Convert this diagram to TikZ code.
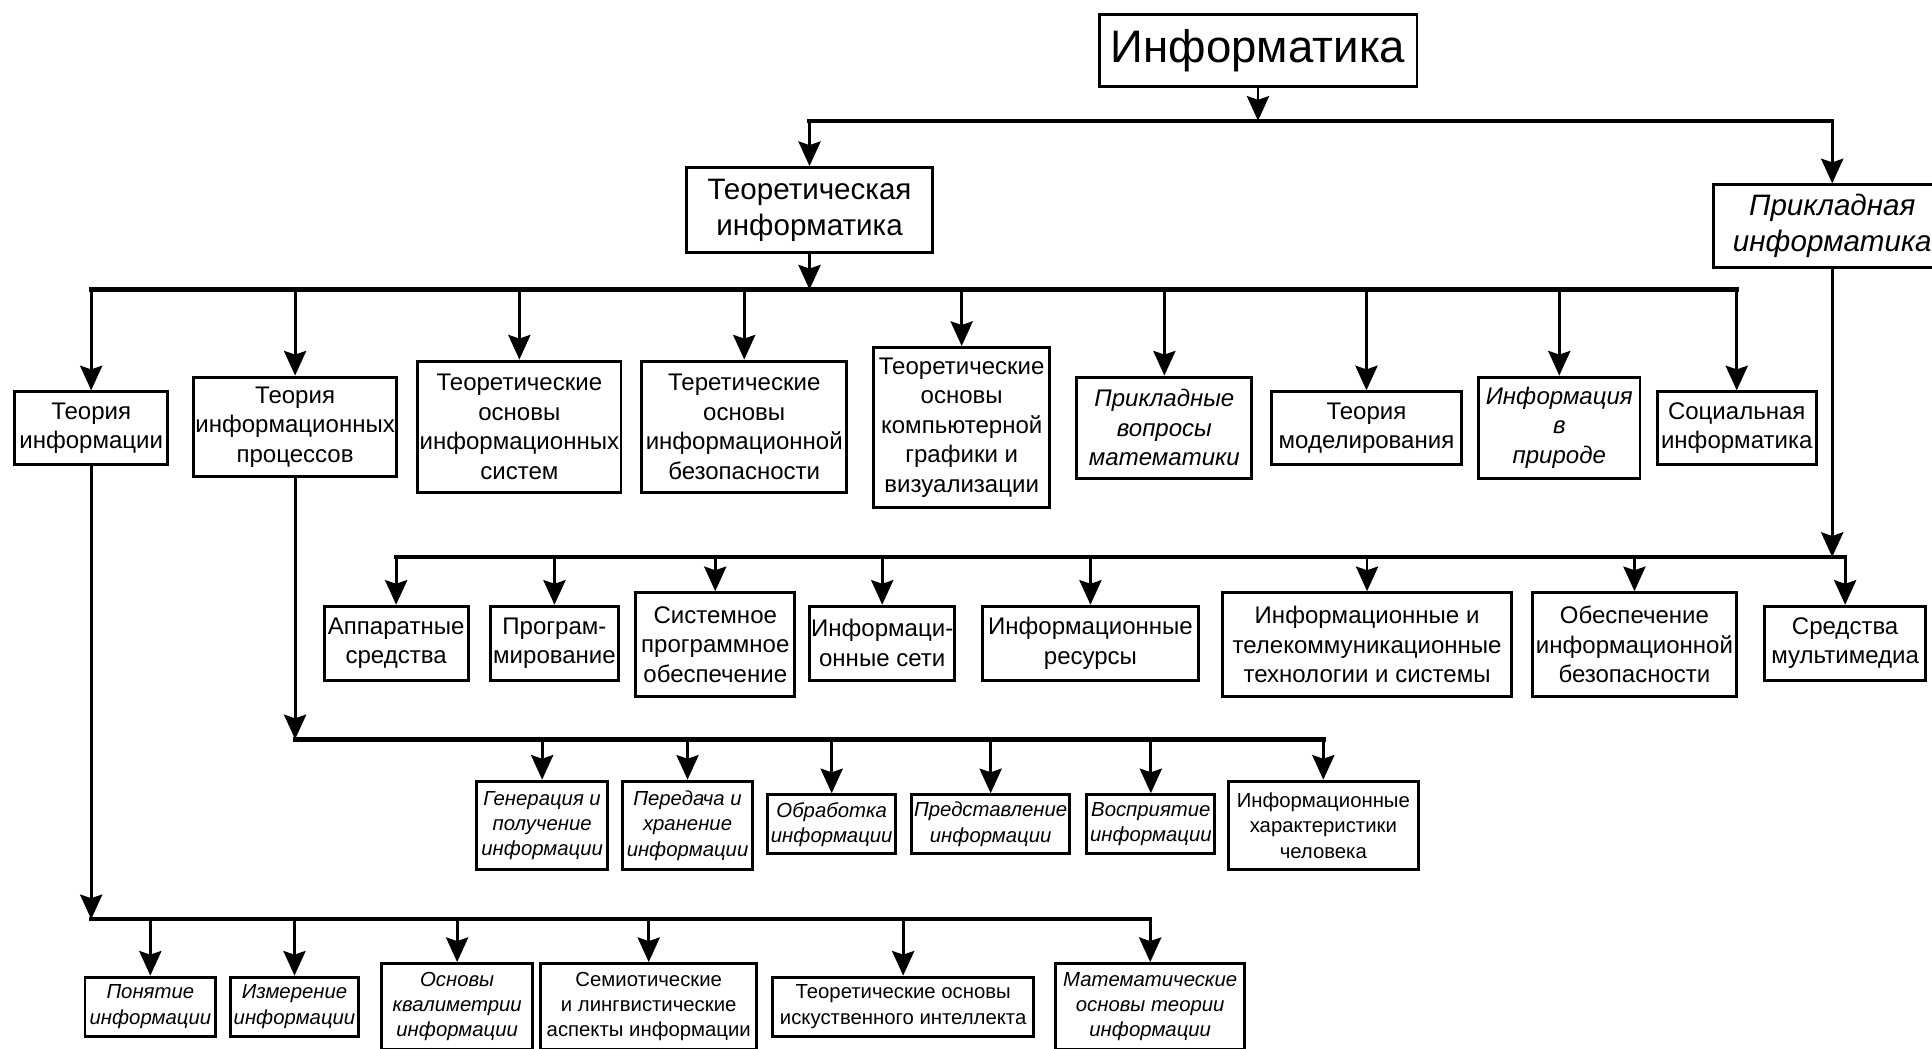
\documentclass[tikz,border=0pt]{standalone}
\usepackage{fontspec}
\setmainfont{Liberation Sans}
\usetikzlibrary{arrows.meta}
\tikzset{
  box/.style={draw, line width=2.4pt, fill=white, align=center, inner sep=0pt,
    font=\fontsize{19.5}{24}\selectfont},
  ibox/.style={box, font=\fontsize{19.5}{24}\selectfont\itshape},
  bigbox/.style={box, font=\fontsize{37}{42}\selectfont},
  midbox/.style={box, font=\fontsize{24}{29}\selectfont},
  imidbox/.style={box, font=\fontsize{24}{29}\selectfont\itshape},
  smallbox/.style={box, font=\fontsize{16.5}{20.5}\selectfont},
  ismallbox/.style={box, font=\fontsize{16.5}{20.5}\selectfont\itshape},
  sz/.style 2 args={minimum width=#1pt, minimum height=#2pt},
  conn/.style={line width=2.3pt, -{Stealth[length=20pt,width=18pt,inset=3pt]}},
  bus/.style={line width=3.6pt, line cap=rect},
}
\begin{document}
\begin{tikzpicture}[x=1pt,y=-1pt]
\useasboundingbox (0,0) rectangle (1568,851);
\fill[white] (0,0) rectangle (1568,851);
% bus levels
\coordinate (y1) at (0,98);
\coordinate (y2) at (0,235);
\coordinate (y3) at (0,452);
\coordinate (y4) at (0,600);
\coordinate (y5) at (0,746);
% level 1 and 2
\node[bigbox, sz={258}{58}] (root) at (1021,41) {Информатика};
\node[midbox, sz={200}{69}] (teor) at (657,170.5) {Теоретическая\\информатика};
\node[imidbox, sz={192}{67}] (prikl) at (1487,183.5) {Прикладная\\информатика};
% level 3
\node[box, sz={124}{59}] (T1) at (74,347.5) {Теория\\информации};
\node[box, sz={165}{81}] (T2) at (239.5,346.5) {Теория\\информационных\\процессов};
\node[box, sz={165}{107}] (T3) at (421.5,346.5) {Теоретические\\основы\\информационных\\систем};
\node[box, sz={166}{107}] (T4) at (604,346.5) {Теретические\\основы\\информационной\\безопасности};
\node[box, sz={143}{130}] (T5) at (780.5,347) {Теоретические\\основы\\компьютерной\\графики и\\визуализации};
\node[ibox, sz={142}{82}] (T6) at (945,347) {Прикладные\\вопросы\\математики};
\node[box, sz={154}{59}] (T7) at (1109,347.5) {Теория\\моделирования};
\node[ibox, sz={131}{82}] (T8) at (1265.5,347) {Информация\\в\\природе};
\node[box, sz={129}{59}] (T9) at (1409.5,347.5) {Социальная\\информатика};
% level 4 (applied)
\node[box, sz={117}{60}] (A1) at (321.5,522) {Аппаратные\\средства};
\node[box, sz={104}{60}] (A2) at (450,522) {Програм-\\мирование};
\node[box, sz={129}{84}] (A3) at (580.5,523) {Системное\\программное\\обеспечение};
\node[box, sz={118}{60}] (A4) at (716,522) {Информаци-\\онные сети};
\node[box, sz={176}{60}] (A5) at (885,522) {Информационные\\ресурсы};
\node[box, sz={235}{84}] (A6) at (1109.5,523) {Информационные и\\телекоммуникационные\\технологии и системы};
\node[box, sz={165}{84}] (A7) at (1326.5,523) {Обеспечение\\информационной\\безопасности};
\node[box, sz={131}{60}] (A8) at (1497.5,522) {Средства\\мультимедиа};
% level 5 (processes)
\node[ismallbox, sz={106}{72}] (P1) at (440,670) {Генерация и\\получение\\информации};
\node[ismallbox, sz={106}{72}] (P2) at (558,670) {Передача и\\хранение\\информации};
\node[ismallbox, sz={104}{48}] (P3) at (675,669) {Обработка\\информации};
\node[ismallbox, sz={128}{48}] (P4) at (804,669) {Представление\\информации};
\node[ismallbox, sz={104}{48}] (P5) at (934,669) {Восприятие\\информации};
\node[smallbox, sz={154}{72}] (P6) at (1074,670) {Информационные\\характеристики\\человека};
% level 6 (information theory)
\node[ismallbox, sz={106}{48}] (Q1) at (122,817) {Понятие\\информации};
\node[ismallbox, sz={104}{48}] (Q2) at (239,817) {Измерение\\информации};
\node[ismallbox, sz={122}{70}] (Q3) at (371,817) {Основы\\квалиметрии\\информации};
\node[smallbox, sz={175}{70}] (Q4) at (526.5,817) {Семиотические\\и лингвистические\\аспекты информации};
\node[smallbox, sz={212}{48}] (Q5) at (733,817) {Теоретические основы\\искуственного интеллекта};
\node[ismallbox, sz={153}{70}] (Q6) at (933.5,817) {Математические\\основы теории\\информации};
% connectors: level 1
\draw[conn] (root.south) -- (root.south |- y1);
\draw[bus] (teor.north |- y1) -- (prikl.north |- y1);
\foreach \n in {teor,prikl} \draw[conn] (\n.north |- y1) -- (\n.north);
% level 2 -> 3
\draw[conn] (teor.south) -- (teor.south |- y2);
\draw[bus] (T1.north |- y2) -- (T9.north |- y2);
\foreach \n in {T1,T2,T3,T4,T5,T6,T7,T8,T9} \draw[conn] (\n.north |- y2) -- (\n.north);
% applied
\draw[conn] (prikl.south) -- (prikl.south |- y3);
\draw[bus] (A1.north |- y3) -- (A8.north |- y3);
\foreach \n in {A1,A2,A3,A4,A5,A6,A7,A8} \draw[conn] (\n.north |- y3) -- (\n.north);
% processes
\draw[conn] (T2.south) -- (T2.south |- y4);
\draw[bus] (T2.south |- y4) -- (P6.north |- y4);
\foreach \n in {P1,P2,P3,P4,P5,P6} \draw[conn] (\n.north |- y4) -- (\n.north);
% information theory
\draw[conn] (T1.south) -- (T1.south |- y5);
\draw[bus] (T1.south |- y5) -- (Q6.north |- y5);
\foreach \n in {Q1,Q2,Q3,Q4,Q5,Q6} \draw[conn] (\n.north |- y5) -- (\n.north);
\end{tikzpicture}
\end{document}
